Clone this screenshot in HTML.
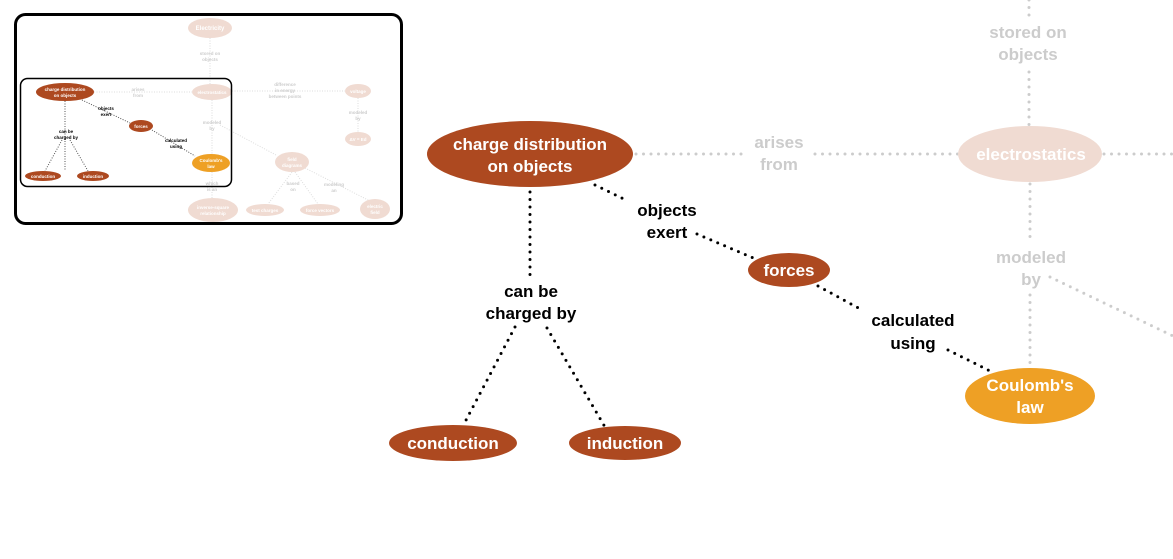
<!DOCTYPE html>
<html><head><style>
html,body{margin:0;padding:0;background:#fff;width:1173px;height:559px;overflow:hidden}
svg{display:block}
text{font-family:"Liberation Sans",Arial,sans-serif;font-weight:bold;text-anchor:middle}
</style></head><body>
<svg width="1173" height="559" viewBox="0 0 1173 559">
<g fill="none" stroke-linecap="round" stroke-width="3" stroke-dasharray="0 7.5">
<g stroke="#cccccc">
<line x1="636" y1="154" x2="745" y2="154"/>
<line x1="815" y1="154" x2="958" y2="154"/>
<line x1="1104" y1="154" x2="1173" y2="154"/>
<line x1="1029" y1="0" x2="1029" y2="18"/>
<line x1="1029" y1="72" x2="1029" y2="126"/>
<line x1="1030" y1="184" x2="1030" y2="242"/>
<line x1="1030" y1="295" x2="1030" y2="366"/>
<line x1="1050" y1="277" x2="1173" y2="336"/>
</g>
<g stroke="#000">
<line x1="595" y1="185" x2="628" y2="201"/>
<line x1="697" y1="234" x2="758" y2="260"/>
<line x1="818" y1="286" x2="862" y2="310"/>
<line x1="948" y1="350" x2="990" y2="371"/>
<line x1="530" y1="192" x2="530" y2="277"/>
<line x1="515" y1="327" x2="464" y2="424"/>
<line x1="547" y1="328" x2="605" y2="427"/>
</g>
</g>
<ellipse cx="530" cy="154" rx="103" ry="33" fill="#ad4920"/>
<ellipse cx="1030" cy="154" rx="72" ry="28" fill="#f0dbd2"/>
<ellipse cx="789" cy="270" rx="41" ry="17" fill="#ad4920"/>
<ellipse cx="1030" cy="396" rx="65" ry="28" fill="#eea025"/>
<ellipse cx="453" cy="443" rx="64" ry="18" fill="#ad4920"/>
<ellipse cx="625" cy="443" rx="56" ry="17" fill="#ad4920"/>
<g font-size="17" fill="#fff">
<text x="530" y="150">charge distribution</text>
<text x="530" y="172">on objects</text>
<text x="1031" y="160">electrostatics</text>
<text x="789" y="276">forces</text>
<text x="1030" y="391">Coulomb's</text>
<text x="1030" y="413">law</text>
<text x="453" y="449">conduction</text>
<text x="625" y="449">induction</text>
</g>
<g font-size="17" fill="#000">
<text x="667" y="216">objects</text>
<text x="667" y="238">exert</text>
<text x="531" y="297">can be</text>
<text x="531" y="319">charged by</text>
<text x="913" y="326">calculated</text>
<text x="913" y="349">using</text>
</g>
<g font-size="17" fill="#cccccc">
<text x="779" y="148">arises</text>
<text x="779" y="170">from</text>
<text x="1028" y="38">stored on</text>
<text x="1028" y="60">objects</text>
<text x="1031" y="263">modeled</text>
<text x="1031" y="285">by</text>
</g>

<!-- minimap -->
<rect x="15.5" y="14.5" width="386" height="209" rx="10" fill="#fff" stroke="#000" stroke-width="3"/>
<g fill="none" stroke-width="1" stroke-dasharray="1 1.5">
<g stroke="#ddd">
<line x1="210" y1="38" x2="210" y2="84"/>
<line x1="94" y1="92" x2="192" y2="92"/>
<line x1="232" y1="91" x2="345" y2="91"/>
<line x1="358" y1="98" x2="358" y2="132"/>
<line x1="212" y1="100" x2="212" y2="154"/>
<line x1="220" y1="125" x2="276" y2="155"/>
<line x1="212" y1="172" x2="212" y2="198"/>
<line x1="292" y1="172" x2="268" y2="204"/>
<line x1="295" y1="172" x2="318" y2="204"/>
<line x1="305" y1="168" x2="370" y2="201"/>
</g>
<g stroke="#555">
<line x1="82" y1="100" x2="130" y2="123"/>
<line x1="152" y1="130" x2="195" y2="156"/>
<line x1="65" y1="101" x2="65" y2="170"/>
<line x1="62" y1="140" x2="45" y2="171"/>
<line x1="70" y1="140" x2="88" y2="171"/>
</g>
</g>
<g fill="#f0dbd2">
<ellipse cx="210" cy="28" rx="22" ry="10"/>
<ellipse cx="212" cy="92" rx="20" ry="8"/>
<ellipse cx="358" cy="91" rx="13" ry="7"/>
<ellipse cx="358" cy="139" rx="13" ry="7"/>
<ellipse cx="292" cy="162" rx="17" ry="10"/>
<ellipse cx="213" cy="210" rx="25" ry="12"/>
<ellipse cx="265" cy="210" rx="19" ry="6"/>
<ellipse cx="320" cy="210" rx="20" ry="6"/>
<ellipse cx="375" cy="209" rx="15" ry="10"/>
</g>
<rect x="20.5" y="78.5" width="211" height="108" rx="7" fill="none" stroke="#000" stroke-width="1.5"/>
<g fill="#ad4920">
<ellipse cx="65" cy="92" rx="29" ry="9"/>
<ellipse cx="141" cy="126" rx="12" ry="6"/>
<ellipse cx="43" cy="176" rx="18" ry="5"/>
<ellipse cx="93" cy="176" rx="16" ry="5"/>
</g>
<ellipse cx="211" cy="163" rx="19" ry="9" fill="#eea025"/>
<g font-size="4.5" fill="#fff">
<text x="210" y="30" font-size="6">Electricity</text>
<text x="212" y="94">electrostatics</text>
<text x="358" y="93">voltage</text>
<text x="358" y="141">ΔV = Ed</text>
<text x="292" y="161">field</text><text x="292" y="167">diagrams</text>
<text x="213" y="209">inverse-square</text><text x="213" y="215">relationship</text>
<text x="265" y="212">test charges</text>
<text x="320" y="212">force vectors</text>
<text x="375" y="208">electric</text><text x="375" y="214">field</text>
<text x="65" y="91">charge distribution</text><text x="65" y="97">on objects</text>
<text x="141" y="128">forces</text>
<text x="43" y="178">conduction</text>
<text x="93" y="178">induction</text>
<text x="211" y="162">Coulomb's</text><text x="211" y="168">law</text>
</g>
<g font-size="4.5" fill="#ccc">
<text x="210" y="55">stored on</text><text x="210" y="61">objects</text>
<text x="138" y="91">arises</text><text x="138" y="97">from</text>
<text x="285" y="86">difference</text><text x="285" y="92">in energy</text><text x="285" y="98">between points</text>
<text x="358" y="114">modeled</text><text x="358" y="120">by</text>
<text x="212" y="124">modeled</text><text x="212" y="130">by</text>
<text x="212" y="185">which</text><text x="212" y="191">is an</text>
<text x="293" y="185">based</text><text x="293" y="191">on</text>
<text x="334" y="186">modeling</text><text x="334" y="192">an</text>
</g>
<g font-size="4.5" fill="#000">
<text x="106" y="110">objects</text><text x="106" y="116">exert</text>
<text x="176" y="142">calculated</text><text x="176" y="148">using</text>
<text x="66" y="133">can be</text><text x="66" y="139">charged by</text>
</g>
</svg>
</body></html>
